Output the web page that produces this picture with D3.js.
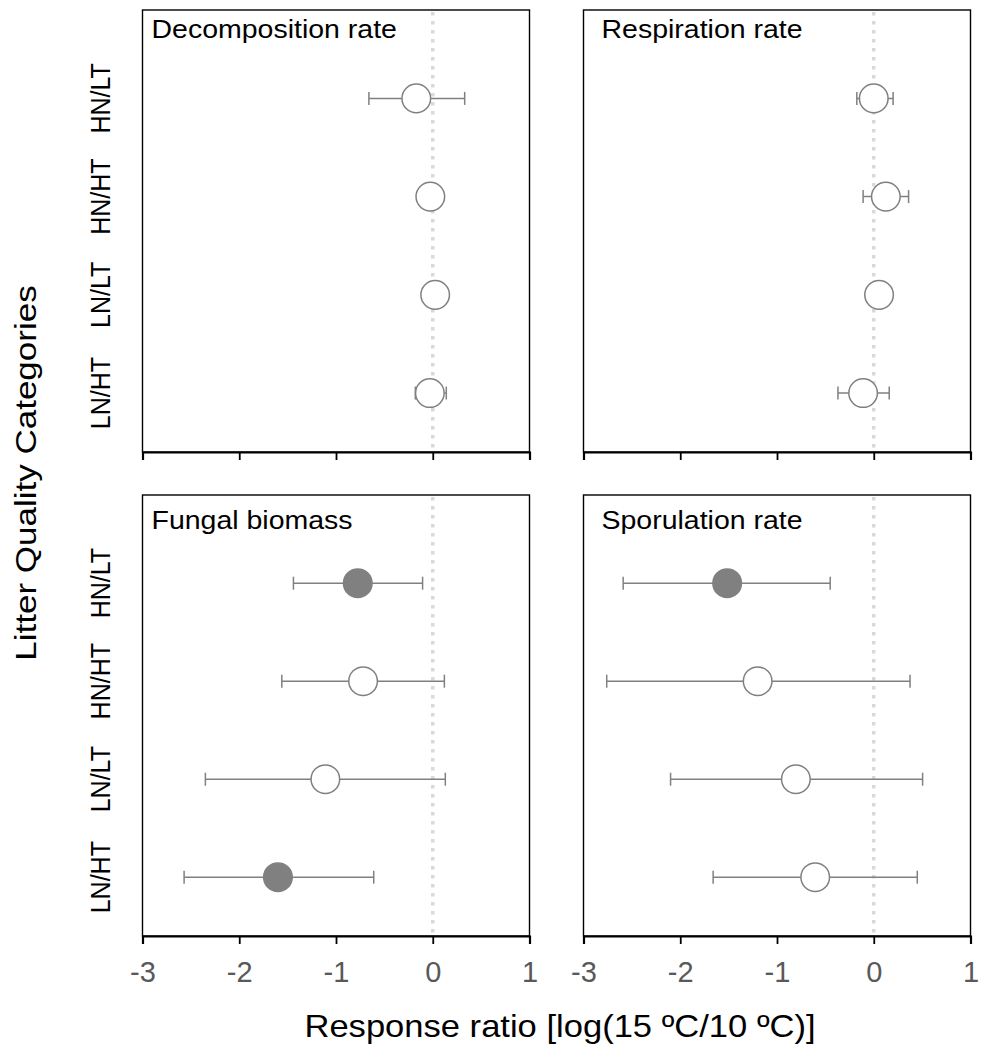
<!DOCTYPE html>
<html>
<head>
<meta charset="utf-8">
<script src="https://cdn.jsdelivr.net/npm/d3@7"></script>
<style>
  body { margin: 0; background: #fff; }
  svg text { font-family: "Liberation Sans", Arial, sans-serif; }
</style>
</head>
<body>
<svg id="chart" width="989" height="1045"></svg>
<script>
// litter quality categories, top to bottom
const categories = ["HN/LT", "HN/HT", "LN/LT", "LN/HT"];
const xTicks = [-3, -2, -1, 0, 1];

// response ratio: mean, lower and upper error, significance (filled)
const decomposition = [
  { cat: "HN/LT", mean: -0.17, lo: -0.66, hi: 0.33, sig: false },
  { cat: "HN/HT", mean: -0.025, lo: -0.1, hi: 0.05, sig: false },
  { cat: "LN/LT", mean: 0.025, lo: -0.05, hi: 0.1, sig: false },
  { cat: "LN/HT", mean: -0.03, lo: -0.18, hi: 0.14, sig: false }
];
const respiration = [
  { cat: "HN/LT", mean: 0.0, lo: -0.175, hi: 0.2, sig: false },
  { cat: "HN/HT", mean: 0.125, lo: -0.11, hi: 0.36, sig: false },
  { cat: "LN/LT", mean: 0.055, lo: -0.02, hi: 0.13, sig: false },
  { cat: "LN/HT", mean: -0.11, lo: -0.37, hi: 0.16, sig: false }
];
const fungal = [
  { cat: "HN/LT", mean: -0.775, lo: -1.44, hi: -0.105, sig: true },
  { cat: "HN/HT", mean: -0.72, lo: -1.56, hi: 0.12, sig: false },
  { cat: "LN/LT", mean: -1.11, lo: -2.35, hi: 0.13, sig: false },
  { cat: "LN/HT", mean: -1.6, lo: -2.57, hi: -0.61, sig: true }
];
const sporulation = [
  { cat: "HN/LT", mean: -1.515, lo: -2.59, hi: -0.45, sig: true },
  { cat: "HN/HT", mean: -1.2, lo: -2.76, hi: 0.375, sig: false },
  { cat: "LN/LT", mean: -0.805, lo: -2.1, hi: 0.505, sig: false },
  { cat: "LN/HT", mean: -0.605, lo: -1.66, hi: 0.45, sig: false }
];

const panels = [
  { title: "Decomposition rate", data: decomposition, x0: 142.5, y0: 10, w: 387, h: 442, tx: 9, ty: 28, yLabels: true },
  { title: "Respiration rate", data: respiration, x0: 583.5, y0: 10, w: 387, h: 442, tx: 18, ty: 28, yLabels: false },
  { title: "Fungal biomass", data: fungal, x0: 142.5, y0: 495, w: 387, h: 441, tx: 9, ty: 34, yLabels: true, xLabels: true },
  { title: "Sporulation rate", data: sporulation, x0: 583.5, y0: 495, w: 387, h: 441, tx: 18, ty: 34, yLabels: false, xLabels: true }
];

const svg = d3.select("#chart");
const grey = "#808080";

panels.forEach(p => {
  const g = svg.append("g").attr("transform", `translate(${p.x0},${p.y0})`);
  const x = d3.scaleLinear().domain([-3, 1]).range([0, p.w]);
  // category position: LN/HT = 1 ... HN/LT = 4
  const y = d3.scaleLinear().domain([0.4, 4.9]).range([p.h, 0]);
  const yPos = c => y(categories.length - categories.indexOf(c));

  // zero reference line
  g.append("line")
    .attr("x1", x(0)).attr("x2", x(0))
    .attr("y1", 2).attr("y2", p.h)
    .attr("stroke", "#d9d9d9")
    .attr("stroke-width", 3.5)
    .attr("stroke-dasharray", "3.5,5.5");

  // frame
  g.append("rect")
    .attr("width", p.w).attr("height", p.h)
    .attr("fill", "none").attr("stroke", "#000").attr("stroke-width", 1.4);

  // bottom axis
  const axis = g.append("g").attr("transform", `translate(0,${p.h})`)
    .call(d3.axisBottom(x).tickValues(xTicks).tickSize(8).tickFormat(d3.format("d")));
  axis.select(".domain").attr("stroke", "#000").attr("stroke-width", 2.2);
  axis.selectAll(".tick line").attr("stroke", "#000").attr("stroke-width", 1.8);
  axis.selectAll(".tick text")
    .attr("fill", "#595959")
    .attr("font-size", 29)
    .attr("y", 25.5)
    .style("font-family", "'Liberation Sans', Arial, sans-serif")
    .text(d => p.xLabels ? d3.format("d")(d).replace("−", "-") : "");

  // panel title
  g.append("text")
    .attr("transform", `translate(${p.tx},${p.ty}) scale(1.14,1)`)
    .attr("font-size", 25)
    .attr("fill", "#000")
    .text(p.title);

  // error bars
  const eb = g.selectAll("g.eb").data(p.data).enter().append("g").attr("class", "eb");
  eb.append("line")
    .attr("x1", d => x(d.lo)).attr("x2", d => x(d.hi))
    .attr("y1", d => yPos(d.cat)).attr("y2", d => yPos(d.cat))
    .attr("stroke", grey).attr("stroke-width", 1.5);
  ["lo", "hi"].forEach(k => {
    eb.append("line")
      .attr("x1", d => x(d[k])).attr("x2", d => x(d[k]))
      .attr("y1", d => yPos(d.cat) - 6.5).attr("y2", d => yPos(d.cat) + 6.5)
      .attr("stroke", grey).attr("stroke-width", 1.5);
  });
  eb.append("circle")
    .attr("cx", d => x(d.mean)).attr("cy", d => yPos(d.cat))
    .attr("r", 14.3)
    .attr("fill", d => d.sig ? grey : "#fff")
    .attr("stroke", grey).attr("stroke-width", 1.5);

  // category labels
  if (p.yLabels) {
    categories.forEach(c => {
      svg.append("text")
        .attr("transform", `translate(${p.x0 - 32.5},${p.y0 + yPos(c)}) rotate(-90) scale(1,1.12)`)
        .attr("text-anchor", "middle")
        .attr("font-size", 25)
        .attr("fill", "#000")
        .text(c);
    });
  }
});

// axis titles
svg.append("text")
  .attr("transform", "translate(36,473) rotate(-90) scale(1,0.85)")
  .attr("text-anchor", "middle")
  .attr("font-size", 35)
  .attr("fill", "#000")
  .text("Litter Quality Categories");

svg.append("text")
  .attr("transform", "translate(560,1037) scale(1.08,1)")
  .attr("text-anchor", "middle")
  .attr("font-size", 32)
  .attr("fill", "#000")
  .text("Response ratio [log(15 ºC/10 ºC)]");
</script>
</body>
</html>
